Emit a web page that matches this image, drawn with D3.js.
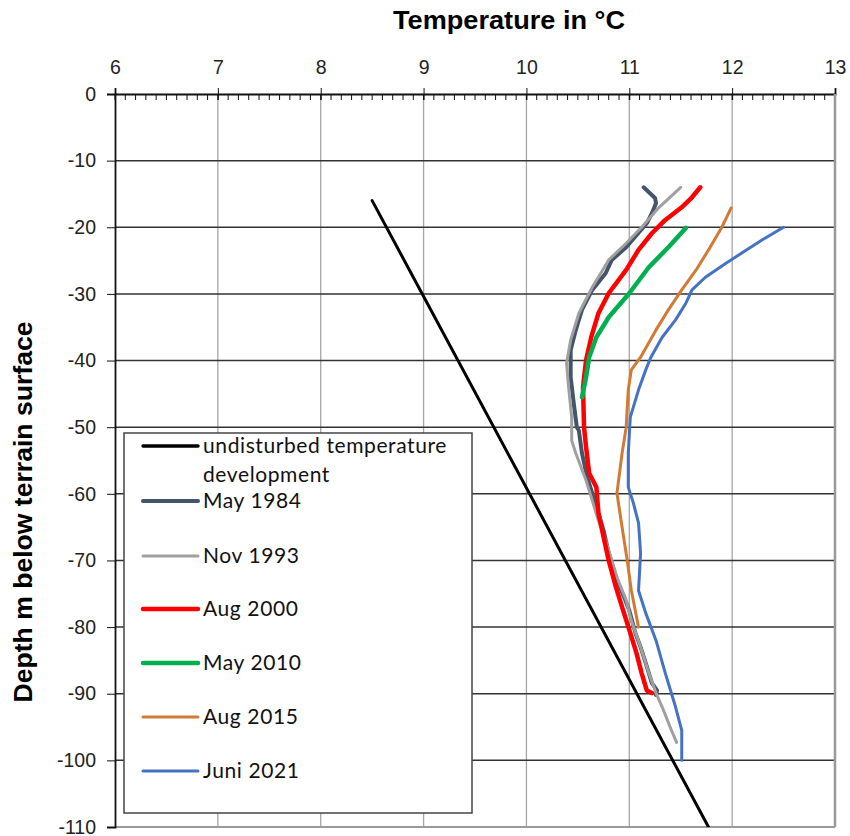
<!DOCTYPE html>
<html>
<head>
<meta charset="utf-8">
<script src="https://cdn.jsdelivr.net/npm/d3@7.9.0/dist/d3.min.js"></script>
<style>
  body { margin: 0; background: #fff; }
  svg { display: block; }
  .tick text { font-family: "Liberation Sans", Arial, sans-serif; font-size: 19.5px; fill: #222; }
  .legend text { font-family: Lato, "Open Sans", sans-serif; font-size: 21px; letter-spacing: 0.6px; fill: #111; }
</style>
</head>
<body>
<svg width="850" height="836"></svg>
<script>
// values: [temperature °C, depth m]
const undisturbed = [[8.5, -16], [11.77, -110]];

const may1984 = [
  [11.14, -14.0], [11.25, -15.6], [11.26, -16.4], [11.22, -17.9], [11.17, -19.4],
  [10.97, -23.0], [10.83, -24.9], [10.77, -26.9], [10.64, -29.4], [10.54, -32.4],
  [10.48, -35.4], [10.43, -38.4], [10.43, -42.5], [10.46, -46.4], [10.49, -50],
  [10.51, -50.5], [10.54, -53.9], [10.59, -57.5], [10.64, -59.9], [10.70, -62.9],
  [10.75, -65.5], [10.80, -68.9], [10.83, -70.4], [10.88, -73.0], [10.95, -75.5],
  [11.0, -77.5], [11.06, -80.9], [11.11, -83.0], [11.16, -85.4], [11.22, -88.4],
  [11.27, -89.5], [11.26, -90.2]
];

const nov1993 = [
  [11.50, -14.0], [11.29, -17.0], [11.12, -20.0], [10.97, -22.4], [10.80, -24.9],
  [10.64, -29.0], [10.51, -32.9], [10.43, -36.9], [10.39, -40.4], [10.41, -44.0],
  [10.44, -48.5], [10.44, -52.0], [10.48, -53.9], [10.58, -58.0], [10.64, -61.0],
  [10.70, -64.0], [10.77, -67.0], [10.83, -70.0], [10.88, -72.5], [10.97, -76.0],
  [11.02, -79.0], [11.11, -83.0], [11.19, -86.9], [11.26, -89.9], [11.32, -92.0],
  [11.41, -95.5], [11.46, -97.3]
];

const aug2000 = [
  [11.69, -14.0], [11.61, -15.5], [11.51, -17.0], [11.35, -18.9], [11.22, -20.9],
  [11.09, -23.4], [10.97, -26.4], [10.80, -29.9], [10.70, -32.9], [10.63, -36.5],
  [10.58, -39.9], [10.55, -44.0], [10.56, -50], [10.58, -53], [10.61, -56.9],
  [10.68, -59.0], [10.70, -62.9], [10.75, -66.5], [10.80, -70.0], [10.87, -74.0],
  [10.93, -77.0], [11.01, -80.9], [11.07, -83.9], [11.12, -86.9], [11.17, -89.5],
  [11.22, -89.9]
];

const may2010 = [
  [11.55, -20.1], [11.38, -23.0], [11.19, -26.0], [11.0, -29.9], [10.80, -33.5],
  [10.68, -36.5], [10.61, -39.5], [10.58, -42.5], [10.54, -45.5]
];

const aug2015 = [
  [11.99, -17.1], [11.90, -20.0], [11.77, -23.4], [11.65, -26.4], [11.51, -29.4],
  [11.38, -32.4], [11.26, -35.4], [11.11, -39.5], [11.02, -41.4], [10.99, -44.4],
  [10.97, -50], [10.93, -53.9], [10.88, -59.9], [10.92, -64], [10.98, -70],
  [11.02, -74.5], [11.09, -80]
];

const juni2021 = [
  [12.5, -20.0], [12.29, -21.9], [12.09, -23.9], [11.94, -25.4], [11.74, -27.5],
  [11.61, -29.4], [11.55, -31.4], [11.45, -33.9], [11.32, -36.5], [11.21, -39.5],
  [11.16, -41.4], [11.09, -44.4], [11.01, -48.5], [10.99, -53.9], [10.99, -59.0],
  [11.04, -61.4], [11.09, -64.4], [11.11, -68.9], [11.09, -74.5], [11.16, -77.9],
  [11.26, -82.0], [11.35, -86.9], [11.45, -92.0], [11.51, -95.5], [11.51, -100]
];

const seriesNames = ['undisturbed temperature development', 'May 1984', 'Nov 1993',
  'Aug 2000', 'May 2010', 'Aug 2015', 'Juni 2021'];
const seriesColors = ['#000000', '#44546A', '#A0A0A0', '#FF0000', '#00B050', '#D27A34', '#4472C4'];
const seriesWidths = [3, 4, 3, 4.5, 4.5, 3, 3];
const seriesData = [undisturbed, may1984, nov1993, aug2000, may2010, aug2015, juni2021];

const xTicks = d3.range(6, 14, 1);
const yTicks = d3.range(0, -111, -10);

const plotLeft = 115, plotRight = 835, plotTop = 94, plotBottom = 827;

const svg = d3.select('svg');

const x = d3.scaleLinear().domain([6, 13]).range([plotLeft, plotRight]);
const y = d3.scaleLinear().domain([0, -110]).range([plotTop, plotBottom]);

// grid
const grid = svg.append('g');
grid.selectAll('.vg')
  .data(xTicks.slice(1))
  .join('line')
  .attr('x1', (d) => x(d)).attr('x2', (d) => x(d))
  .attr('y1', plotTop).attr('y2', plotBottom)
  .attr('stroke', '#a6a6a6').attr('stroke-width', 1.3);
grid.selectAll('.hg')
  .data(yTicks.slice(1, -1))
  .join('line')
  .attr('x1', plotLeft).attr('x2', plotRight)
  .attr('y1', (d) => y(d)).attr('y2', (d) => y(d))
  .attr('stroke', '#333').attr('stroke-width', 1.5);
grid.append('line')
  .attr('x1', plotLeft).attr('x2', plotRight).attr('y1', plotBottom).attr('y2', plotBottom)
  .attr('stroke', '#999').attr('stroke-width', 2);

// top axis: major + minor ticks
const xAxis = svg.append('g')
  .attr('transform', `translate(0,${plotTop})`)
  .call(d3.axisTop(x).tickValues(xTicks).tickFormat((d) => String(d)).tickSize(6).tickPadding(14));
xAxis.select('.domain').attr('stroke', '#111').attr('stroke-width', 1.8);
xAxis.selectAll('.tick line').attr('y2', 12).attr('transform', 'translate(0,-6)').attr('stroke', '#111');

svg.append('g')
  .selectAll('line')
  .data(d3.range(6, 13.001, 0.1))
  .join('line')
  .attr('x1', (d) => x(d)).attr('x2', (d) => x(d))
  .attr('y1', plotTop).attr('y2', plotTop + 6)
  .attr('stroke', '#111').attr('stroke-width', 1);

// right border
svg.append('line')
  .attr('x1', plotRight).attr('x2', plotRight).attr('y1', plotTop).attr('y2', plotBottom)
  .attr('stroke', '#999').attr('stroke-width', 2.5);

// left axis
const yAxis = svg.append('g')
  .attr('transform', `translate(${plotLeft},0)`)
  .call(d3.axisLeft(y).tickValues(yTicks).tickFormat((d) => String(d)).tickSize(8).tickPadding(11));
yAxis.select('.domain').attr('stroke', '#111').attr('stroke-width', 1.8);
yAxis.selectAll('.tick line').attr('stroke', '#111');

// lines
const line = d3.line().x((d) => x(d[0])).y((d) => y(d[1]));
svg.append('clipPath').attr('id', 'plot')
  .append('rect').attr('x', plotLeft).attr('y', plotTop)
  .attr('width', plotRight - plotLeft).attr('height', plotBottom - plotTop);

svg.append('g').attr('clip-path', 'url(#plot)')
  .selectAll('path')
  .data(seriesData)
  .join('path')
  .attr('d', line)
  .attr('fill', 'none')
  .attr('stroke', (d, i) => seriesColors[i])
  .attr('stroke-width', (d, i) => seriesWidths[i])
  .attr('stroke-linejoin', 'round')
  .attr('stroke-linecap', 'round');

// legend
const legend = svg.append('g').attr('class', 'legend');
legend.append('rect')
  .attr('x', 124).attr('y', 433).attr('width', 348).attr('height', 380)
  .attr('fill', '#fff').attr('stroke', '#444').attr('stroke-width', 1.5);

const legendY = [446, 501, 556, 609, 663, 717, 771];
seriesNames.forEach((name, i) => {
  legend.append('line')
    .attr('x1', 143).attr('x2', 198)
    .attr('y1', legendY[i]).attr('y2', legendY[i])
    .attr('stroke', seriesColors[i])
    .attr('stroke-width', i === 0 ? 3.5 : seriesWidths[i])
    .attr('stroke-linecap', 'round');
  if (i === 0) {
    legend.append('text').attr('x', 203).attr('y', legendY[i]).attr('dy', '0.35em').text('undisturbed temperature');
    legend.append('text').attr('x', 203).attr('y', legendY[i] + 29).attr('dy', '0.35em').text('development');
  } else {
    legend.append('text').attr('x', 203).attr('y', legendY[i]).attr('dy', '0.35em').text(name);
  }
});

// titles
svg.append('text')
  .attr('x', 509).attr('y', 29)
  .attr('text-anchor', 'middle')
  .attr('textLength', 232).attr('lengthAdjust', 'spacingAndGlyphs')
  .style('font-family', '"Liberation Sans", Arial, sans-serif')
  .style('font-size', '25px').style('font-weight', 'bold')
  .text('Temperature in °C');

svg.append('text')
  .attr('transform', 'translate(32,512) rotate(-90)')
  .attr('text-anchor', 'middle')
  .attr('textLength', 381).attr('lengthAdjust', 'spacingAndGlyphs')
  .style('font-family', '"Liberation Sans", Arial, sans-serif')
  .style('font-size', '25px').style('font-weight', 'bold')
  .text('Depth m below terrain surface');
</script>
</body>
</html>
